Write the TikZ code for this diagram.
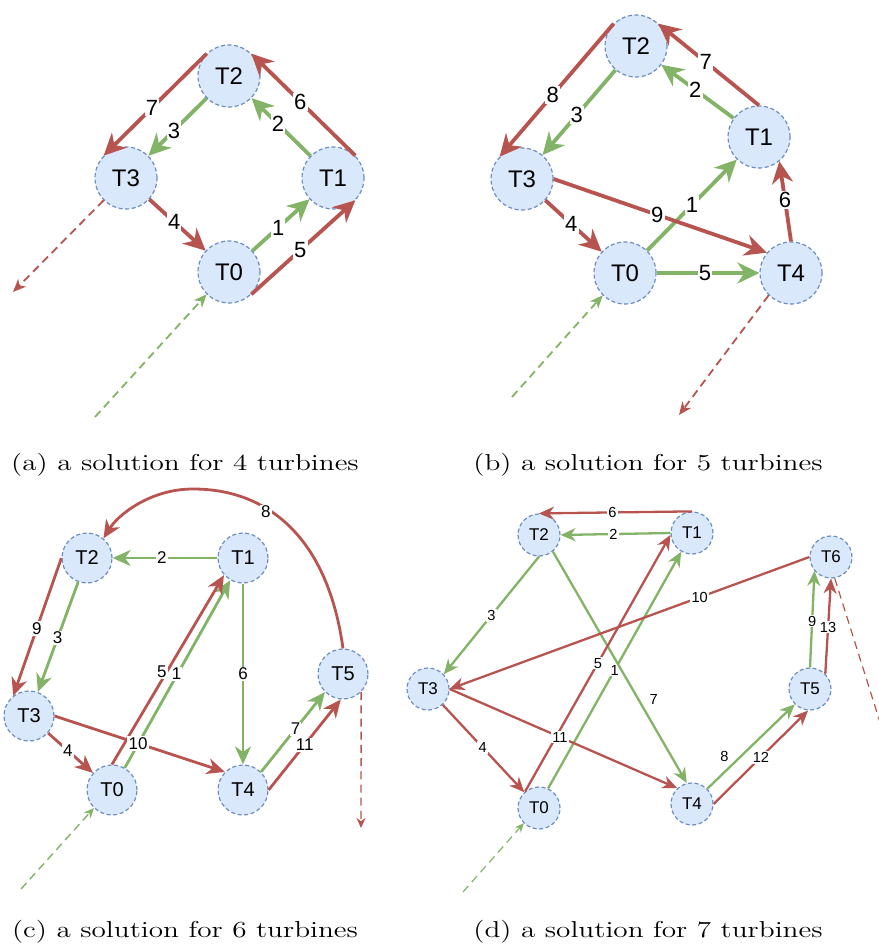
\documentclass[tikz,border=0pt]{standalone}
\usepackage{fontspec}
\setsansfont{Liberation Sans}
\usepackage{tikz}
\usetikzlibrary{arrows.meta}
\definecolor{turbfill}{HTML}{DAE8FC}
\definecolor{turbborder}{HTML}{6C8EBF}
\definecolor{redflow}{HTML}{B85450}
\definecolor{greenflow}{HTML}{82B366}

\begin{document}
\begin{tikzpicture}[x=0.5pt, y=-0.5pt,
    turbine/.style={circle, draw=turbborder, fill=turbfill, dash pattern=on 2pt off 1.3pt,
                    line width=0.6pt, inner sep=0pt, font=\sffamily},
    flow/.style={color=#1, line join=round},
    flow/.default={redflow},
    feed/.style={color=#1, dash pattern=on 4pt off 2.6pt},
    lbl/.style={fill=white, inner sep=0.6pt, text=black, font=\sffamily},
    caption/.style={anchor=base, font=\fontsize{11.5}{13}\selectfont},
]
    \useasboundingbox (0,0) rectangle (878,945);

    % ── (a) 4 turbines ──
    \begin{scope}[turbine/.append style={minimum size=31pt, font=\sffamily\fontsize{12}{12}\selectfont},
                  lbl/.append style={font=\sffamily\fontsize{11}{11}\selectfont},
                  flow/.append style={line width=1.9pt, -{Stealth[length=11pt, width=10.5pt, inset=3.5pt]}},
                  feed/.append style={line width=0.9pt, -{Stealth[length=6.5pt, width=5.5pt, inset=2pt]}}]
        \node[turbine] (a2) at (229,76) {T2};
        \node[turbine] (a3) at (126,178) {T3};
        \node[turbine] (a1) at (333,178) {T1};
        \node[turbine] (a0) at (229,272) {T0};

        \draw[flow=greenflow] (a0) -- node[lbl, pos=0.45] (a-l1) {1} (a1);
        \draw[flow=greenflow] (a1) -- node[lbl, pos=0.55] (a-l2) {2} (a2);
        \draw[flow=greenflow] (a2) -- node[lbl, pos=0.56] (a-l3) {3} (a3);
        \draw[flow] (a3) -- node[lbl, pos=0.44] (a-l4) {4} (a0);
        \draw[flow] (a0.-45) -- node[lbl, pos=0.47] (a-l5) {5} (a1.-45);
        \draw[flow] (a1.45) -- node[lbl, pos=0.53] (a-l6) {6} (a2.45);
        \draw[flow] (a2.135) -- node[lbl, pos=0.53] (a-l7) {7} (a3.135);

        \coordinate (a-out) at (13,292);
        \coordinate (a-in) at (95,417);
        \draw[feed=redflow] (a3.225) -- (a-out);
        \draw[feed=greenflow] (a-in) -- (a0.225);
    \end{scope}

    % ── (b) 5 turbines ──
    \begin{scope}[turbine/.append style={minimum size=31pt, font=\sffamily\fontsize{12}{12}\selectfont},
                  lbl/.append style={font=\sffamily\fontsize{11}{11}\selectfont},
                  flow/.append style={line width=1.9pt, -{Stealth[length=11pt, width=10.5pt, inset=3.5pt]}},
                  feed/.append style={line width=0.9pt, -{Stealth[length=6.5pt, width=5.5pt, inset=2pt]}}]
        \node[turbine] (b2) at (636,46) {T2};
        \node[turbine] (b1) at (759,137) {T1};
        \node[turbine] (b3) at (522,179) {T3};
        \node[turbine] (b0) at (625,273) {T0};
        \node[turbine] (b4) at (791,273) {T4};

        \draw[flow=greenflow] (b0) -- node[lbl, pos=0.5] (b-l1) {1} (b1);
        \draw[flow=greenflow] (b1) -- node[lbl, pos=0.53] (b-l2) {2} (b2);
        \draw[flow=greenflow] (b2) -- node[lbl, pos=0.53] (b-l3) {3} (b3);
        \draw[flow=greenflow] (b0.east) -- node[lbl, pos=0.47] (b-l5) {5} (b4.west);
        \draw[flow] (b3) -- node[lbl, pos=0.46] (b-l4) {4} (b0);
        \draw[flow] (b4.north) -- node[lbl, pos=0.52] (b-l6) {6} (b1.-50);
        \draw[flow] (b1.north) -- node[lbl, pos=0.53] (b-l7) {7} (b2.45);
        \draw[flow] (b2.135) -- node[lbl, pos=0.535] (b-l8) {8} (b3.135);
        \draw[flow] (b3.east) -- node[lbl, pos=0.486] (b-l9) {9} (b4.140);

        \coordinate (b-in) at (512,397);
        \coordinate (b-out) at (679,415);
        \draw[feed=greenflow] (b-in) -- (b0.225);
        \draw[feed=redflow] (b4.225) -- (b-out);
    \end{scope}

    % ── (c) 6 turbines ──
    \begin{scope}[turbine/.append style={minimum size=25pt, font=\sffamily\fontsize{10}{10}\selectfont},
                  lbl/.append style={font=\sffamily\fontsize{8.5}{8.5}\selectfont},
                  flow/.append style={line width=1.4pt, -{Stealth[length=9pt, width=8pt, inset=2.8pt]}},
                  feed/.append style={line width=0.7pt, -{Stealth[length=5pt, width=4.5pt, inset=1.6pt]}}]
        \node[turbine] (c2) at (87,558) {T2};
        \node[turbine] (c1) at (243,558) {T1};
        \node[turbine] (c5) at (343,674) {T5};
        \node[turbine] (c3) at (29,716) {T3};
        \node[turbine] (c0) at (112,790) {T0};
        \node[turbine] (c4) at (243,790) {T4};

        \draw[flow=greenflow] (c0.60) -- node[lbl, pos=0.5, xshift=-0.5pt] (c-l1) {1} (c1.240);
        \draw[flow=greenflow] (c1.west) -- node[lbl, pos=0.53] (c-l2) {2} (c2.east);
        \draw[flow=greenflow] (c2) -- node[lbl, pos=0.51] (c-l3) {3} (c3);
        \draw[flow=greenflow] (c1.south) -- node[lbl, pos=0.5] (c-l6) {6} (c4.north);
        \draw[flow=greenflow] (c4.45) -- node[lbl, pos=0.54] (c-l7) {7} (c5.225);
        \draw[flow] (c3) -- node[lbl, pos=0.44] (c-l4) {4} (c0);
        \draw[flow] (c0.north) -- node[lbl, pos=0.49, xshift=-2.5pt] (c-l5) {5} (c1.222);
        \draw[flow] (c5.north) .. controls (328,540) and (270,489) .. (193,489)
            node[lbl, pos=0.65, yshift=-2pt] (c-l8) {8}
            .. controls (150,489) and (118,515) .. (c2.50);
        \draw[flow] (c2.west) -- node[lbl, pos=0.51] (c-l9) {9} (c3.128);
        \draw[flow] (c3.east) -- node[lbl, pos=0.49] (c-l10) {10} (c4.135);
        \draw[flow] (c4.east) -- node[lbl, pos=0.5] (c-l11) {11} (c5.265);

        \coordinate (c-in) at (21,889);
        \coordinate (c-out) at (361,828);
        \draw[feed=greenflow] (c-in) -- (c0.225);
        \draw[feed=redflow] (c5.-45) -- (c-out);
    \end{scope}

    % ── (d) 7 turbines ──
    \begin{scope}[turbine/.append style={minimum size=21pt, font=\sffamily\fontsize{8.5}{8.5}\selectfont},
                  lbl/.append style={font=\sffamily\fontsize{7.3}{7.3}\selectfont},
                  flow/.append style={line width=1.15pt, -{Stealth[length=7.5pt, width=6.5pt, inset=2.4pt]}},
                  feed/.append style={line width=0.6pt, -{Stealth[length=4.5pt, width=4pt, inset=1.5pt]}}]
        \node[turbine] (d2) at (539,535) {T2};
        \node[turbine] (d1) at (692,533) {T1};
        \node[turbine] (d6) at (831,557) {T6};
        \node[turbine] (d3) at (428,689) {T3};
        \node[turbine] (d5) at (810,689) {T5};
        \node[turbine] (d0) at (539,808) {T0};
        \node[turbine] (d4) at (692,804) {T4};

        \draw[flow=greenflow] (d0.65) -- node[lbl, pos=0.5] (d-l1) {1} (d1.240);
        \draw[flow=greenflow] (d1.west) -- node[lbl, pos=0.52] (d-l2) {2} (d2.east);
        \draw[flow=greenflow] (d2.south) -- node[lbl, pos=0.5] (d-l3) {3} (d3.43);
        \draw[flow=greenflow] (d2.-50) -- node[lbl, pos=0.64, xshift=7.5pt] (d-l7) {7} (d4.104);
        \draw[flow=greenflow] (d4.45) -- node[lbl, pos=0.38, xshift=-8pt] (d-l8) {8} (d5.225);
        \draw[flow=greenflow] (d5.north) -- node[lbl, pos=0.48] (d-l9) {9} (d6.220);
        \draw[flow] (d3) -- node[lbl, pos=0.49] (d-l4) {4} (d0);
        \draw[flow] (d0.130) -- node[lbl, pos=0.5] (d-l5) {5} (d1.185);
        \draw[flow] (d1.north) -- node[lbl, pos=0.52] (d-l6) {6} (d2.north);
        \draw[flow] (d6.west) -- node[lbl, pos=0.305] (d-l10) {10} (d3.east);
        \draw[flow] (d3.east) -- node[lbl, pos=0.485] (d-l11) {11} (d4.133);
        \draw[flow] (d4.east) -- node[lbl, pos=0.5] (d-l12) {12} (d5.265);
        \draw[flow] (d5.45) -- node[lbl, pos=0.49] (d-l13) {13} (d6.south);

        \coordinate (d-in) at (463,892);
        \coordinate (d-out) at (890,754);
        \draw[feed=greenflow] (d-in) -- (d0.225);
        \draw[feed=redflow] (d6.-80) -- (d-out);
    \end{scope}

    % ── captions ──
    \node[caption] (cap-a) at (185,470) {\scalebox{1.27}[1]{(a) a solution for 4 turbines}};
    \node[caption] (cap-b) at (648,470) {\scalebox{1.27}[1]{(b) a solution for 5 turbines}};
    \node[caption] (cap-c) at (185,937) {\scalebox{1.27}[1]{(c) a solution for 6 turbines}};
    \node[caption] (cap-d) at (648,937) {\scalebox{1.27}[1]{(d) a solution for 7 turbines}};

\end{tikzpicture}
\end{document}
